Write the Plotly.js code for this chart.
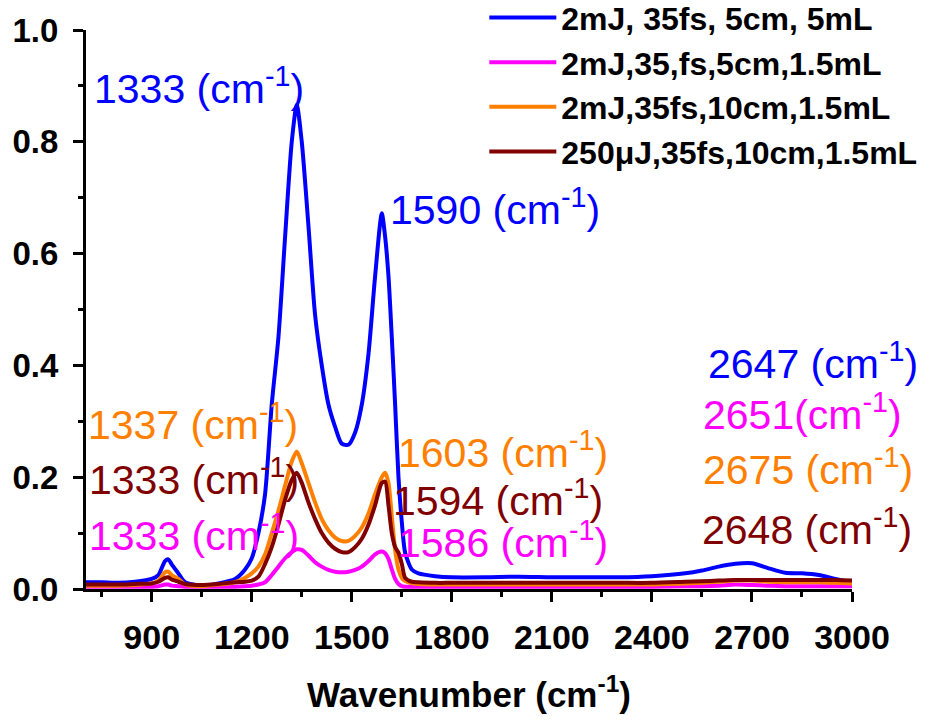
<!DOCTYPE html>
<html>
<head>
<meta charset="utf-8">
<script src="https://cdn.plot.ly/plotly-3.0.1.min.js"></script>
<style>html,body{margin:0;padding:0;background:#fff;}#chart{width:942px;height:721px;}</style>
</head>
<body>
<div id="chart"></div>
<script>
// Wavenumber grid (cm^-1)
const wavenumber = [700,750,800,850,900,920,940,950,960,980,1000,1050,1100,1150,1180,1200,1220,1240,1260,1280,1300,1320,1335,1350,1370,1390,1410,1430,1450,1470,1490,1510,1530,1550,1570,1590,1600,1610,1620,1630,1640,1650,1660,1680,1700,1750,1800,1900,2000,2100,2200,2300,2400,2500,2550,2600,2650,2700,2750,2800,2850,2900,2950,3000];

// 2mJ, 35fs, 5cm, 5mL (blue)
const blue2mJ5cm5mL = [0.012,0.012,0.011,0.013,0.018,0.025,0.050,0.053,0.044,0.028,0.012,0.006,0.010,0.018,0.035,0.055,0.100,0.170,0.330,0.450,0.630,0.800,0.866,0.800,0.650,0.490,0.400,0.330,0.290,0.260,0.258,0.280,0.330,0.420,0.560,0.672,0.630,0.560,0.450,0.330,0.200,0.120,0.065,0.035,0.028,0.023,0.021,0.021,0.022,0.021,0.021,0.021,0.023,0.028,0.033,0.040,0.045,0.046,0.037,0.029,0.028,0.025,0.018,0.012];

// 2mJ,35,fs,5cm,1.5mL (magenta)
const magenta2mJ5cm15mL = [0.004,0.004,0.004,0.004,0.004,0.005,0.008,0.008,0.006,0.005,0.004,0.004,0.004,0.004,0.005,0.006,0.008,0.012,0.025,0.040,0.055,0.066,0.071,0.070,0.060,0.048,0.040,0.034,0.031,0.030,0.031,0.034,0.040,0.050,0.062,0.067,0.064,0.054,0.035,0.018,0.009,0.005,0.004,0.004,0.004,0.004,0.004,0.004,0.004,0.004,0.004,0.004,0.004,0.005,0.005,0.006,0.008,0.007,0.006,0.005,0.005,0.005,0.005,0.005];

// 2mJ,35fs,10cm,1.5mL (orange)
const orange2mJ10cm15mL = [0.006,0.006,0.006,0.007,0.010,0.015,0.030,0.031,0.025,0.018,0.008,0.005,0.008,0.012,0.020,0.028,0.040,0.062,0.100,0.140,0.185,0.228,0.246,0.225,0.190,0.155,0.125,0.105,0.092,0.086,0.086,0.095,0.110,0.135,0.170,0.200,0.208,0.190,0.130,0.070,0.035,0.020,0.014,0.010,0.009,0.008,0.008,0.008,0.008,0.008,0.008,0.008,0.008,0.010,0.011,0.013,0.015,0.015,0.013,0.012,0.012,0.012,0.011,0.010];

// 250µJ,35fs,10cm,1.5mL (dark red)
const brown250uJ10cm15mL = [0.008,0.008,0.008,0.009,0.010,0.013,0.020,0.021,0.017,0.013,0.009,0.007,0.009,0.012,0.013,0.015,0.022,0.045,0.075,0.115,0.160,0.195,0.208,0.190,0.155,0.125,0.100,0.083,0.072,0.066,0.066,0.075,0.090,0.115,0.150,0.190,0.192,0.150,0.100,0.075,0.065,0.045,0.020,0.013,0.012,0.011,0.011,0.011,0.011,0.011,0.011,0.011,0.011,0.013,0.014,0.015,0.016,0.016,0.016,0.016,0.016,0.016,0.016,0.015];

const seriesNames = ['2mJ, 35fs, 5cm, 5mL','2mJ,35,fs,5cm,1.5mL','2mJ,35fs,10cm,1.5mL','250\u03bcJ,35fs,10cm,1.5mL'];
const seriesValues = [blue2mJ5cm5mL, magenta2mJ5cm15mL, orange2mJ10cm15mL, brown250uJ10cm15mL];
const seriesColors = ['#0000FF','#FF00FF','#FF8000','#800000'];

// Peak labels
const peakLabelText = ['1333','1590','1337','1333','1333','1603','1594','1586','2647','2651','2675','2648'];
const peakLabelSpace = [' ',' ',' ',' ',' ',' ',' ',' ',' ','',' ',' '];
const peakLabelSeries = [0,0,2,3,1,2,3,1,0,1,2,3];
const peakLabelX = [721,1609,704,705,705,1633,1618,1633,2563,2548,2548,2545];
const peakLabelY = [0.900,0.683,0.299,0.201,0.100,0.249,0.162,0.088,0.407,0.317,0.219,0.111];

const FONT = 'Liberation Sans, Arial, Helvetica, sans-serif';

const traces = seriesNames.map((name, i) => ({
  type: 'scatter', mode: 'lines', name: name,
  x: wavenumber, y: seriesValues[i],
  line: {color: seriesColors[i], width: 4, shape: 'spline', smoothing: 0.7}
}));

const annotations = peakLabelText.map((t, i) => ({
  x: peakLabelX[i], y: peakLabelY[i], xref: 'x', yref: 'y',
  xanchor: 'left', yanchor: 'middle', showarrow: false,
  text: t + peakLabelSpace[i] + '(cm<sup>-1</sup>)',
  font: {family: FONT, size: 41, color: seriesColors[peakLabelSeries[i]]}
}));

const layout = {
  width: 942, height: 721,
  margin: {l: 86, r: 90, t: 30, b: 132, autoexpand: false},
  paper_bgcolor: '#fff', plot_bgcolor: '#fff',
  showlegend: true,
  legend: {
    x: 0.52, xanchor: 'left', y: 1.071, yanchor: 'top',
    font: {family: FONT, size: 32, color: '#000', weight: 'bold'},
    bgcolor: 'rgba(0,0,0,0)', borderwidth: 0, itemwidth: 67,
    tracegroupgap: 0
  },
  xaxis: {
    range: [703, 3000], tick0: 900, dtick: 300,
    showline: true, linewidth: 3, linecolor: '#000',
    ticks: 'outside', ticklen: 10, tickwidth: 3, tickcolor: '#000',
    showgrid: false, zeroline: false,
    minor: {tick0: 750, dtick: 300, ticks: 'outside', ticklen: 5, tickwidth: 3, tickcolor: '#000', showgrid: false},
    tickfont: {family: FONT, size: 34, color: '#000', weight: 'bold'},
    ticklabelstandoff: 6,
    title: {text: 'Wavenumber (cm<sup>-1</sup>)', font: {family: FONT, size: 35, color: '#000', weight: 'bold'}, standoff: 28}
  },
  yaxis: {
    range: [0, 1.0], tick0: 0, dtick: 0.2, tickformat: '.1f',
    showline: true, linewidth: 3, linecolor: '#000',
    ticks: 'outside', ticklen: 10, tickwidth: 3, tickcolor: '#000',
    showgrid: false, zeroline: false,
    minor: {tick0: 0.1, dtick: 0.2, ticks: 'outside', ticklen: 5, tickwidth: 3, tickcolor: '#000', showgrid: false},
    tickfont: {family: FONT, size: 33, color: '#000', weight: 'bold'},
    ticklabelstandoff: 8
  },
  annotations: annotations
};

Plotly.newPlot('chart', traces, layout, {displayModeBar: false, staticPlot: true});
</script>
</body>
</html>
